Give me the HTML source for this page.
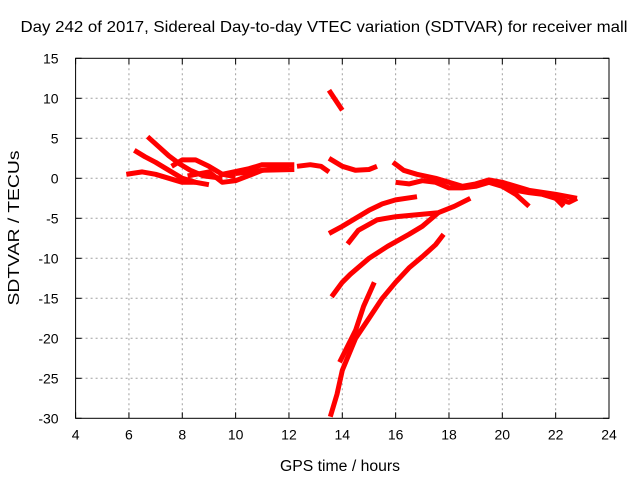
<!DOCTYPE html>
<html><head><meta charset="utf-8"><style>
body{margin:0;background:#fff}
svg{display:block;font-family:"Liberation Sans",sans-serif}
</style></head><body>
<svg id="chart" width="640" height="480">
<text x="324" y="32" font-size="16" textLength="607" lengthAdjust="spacingAndGlyphs" text-anchor="middle">Day 242 of 2017, Sidereal Day-to-day VTEC variation (SDTVAR) for receiver mall</text>
<text x="340" y="471" font-size="15.5" textLength="120" lengthAdjust="spacingAndGlyphs" text-anchor="middle">GPS time / hours</text>
<text transform="translate(19,228) rotate(-90)" font-size="15.5" textLength="155" lengthAdjust="spacingAndGlyphs" text-anchor="middle">SDTVAR / TECUs</text>
<g id="grid"></g><g id="ticks"></g><g id="series"></g>
<rect x="75.6" y="58.3" width="533.4" height="360" fill="none" stroke="#000" stroke-width="1"/>
</svg>
<script>
const xTicks=[4,6,8,10,12,14,16,18,20,22,24];
const yTicks=[15,10,5,0,-5,-10,-15,-20,-25,-30];
const t1=[[6.7,5.2],[7.1,4],[7.5,2.8],[7.9,1.8],[8.3,1],[8.8,0.3],[9.5,0]];
const t2=[[6.2,3.5],[6.6,2.7],[7,2],[7.5,1],[8,0],[8.5,-0.5],[9,-0.8]];
const t3=[[5.9,0.5],[6.5,0.8],[7,0.5],[7.5,0],[8,-0.5],[8.5,-0.5]];
const t4=[[7.6,1.5],[8,2.3],[8.5,2.3],[9,1.5],[9.5,0.5],[10,0.2]];
const t5=[[8.2,0.3],[9,0.8],[9.5,-0.5],[10,-0.3],[11,1],[12,1.5]];
const t6=[[9.5,0.5],[10.5,1.2],[11,1.7],[12.2,1.7]];
const t6b=[[10,0.6],[11,1],[12.2,1.1]];
const t7=[[12.3,1.5],[12.8,1.7],[13.2,1.5],[13.5,0.8]];
const t8=[[13.5,11],[13.7,10],[14,8.5]];
const t9=[[13.5,2.5],[14,1.5],[14.5,1],[15,1.1],[15.3,1.5]];
const t10=[[15.9,2],[16.3,1],[16.8,0.5],[17.5,0],[18,-0.5],[18.5,-1],[19,-0.7],[19.5,-0.2],[20,-0.5],[21,-1.5],[22,-2],[22.8,-2.5]];
const t11=[[16,-0.5],[16.5,-0.7],[17,-0.3],[17.5,-0.5],[18,-1.2],[18.5,-1.2],[19,-1],[19.5,-0.5],[20,-1],[20.5,-1.5],[21,-1.8],[21.5,-2],[22,-2.5],[22.5,-3],[22.8,-2.5]];
const t12=[[20,-1],[20.5,-2],[21,-3.5]];
const t12b=[[22,-2.5],[22.3,-3.5]];
const t13=[[13.5,-6.9],[14,-6],[14.5,-5],[15,-4],[15.5,-3.2],[16,-2.7],[16.8,-2.3]];
const t14=[[14.2,-8.2],[14.6,-6.5],[15.3,-5.2],[16,-4.8],[17,-4.5],[17.6,-4.3],[18.2,-3.5],[18.8,-2.5]];
const t15=[[13.6,-14.8],[14,-13],[14.3,-12],[15,-10],[15.7,-8.5],[16.5,-7],[17,-6],[17.6,-4.3]];
const t16=[[13.55,-29.8],[13.8,-27],[14,-24],[14.5,-20],[15,-17.5],[15.5,-15],[16,-13],[16.5,-11.2],[17,-9.8],[17.5,-8.3],[17.8,-7]];
const t17=[[13.9,-23],[14.2,-21],[14.5,-19],[14.8,-16],[15.2,-13]];
const allSeries=[t1,t2,t3,t4,t5,t6,t6b,t7,t8,t9,t10,t11,t12,t12b,t13,t14,t15,t16,t17];
const X0=75.6,X1=609,Y0=58.3,Y1=418.3;
function sx(v){return X0+(v-4)/20*(X1-X0);}
function sy(v){return Y0+(15-v)/45*(Y1-Y0);}
const NS='http://www.w3.org/2000/svg';
const grid=document.getElementById('grid'),ticks=document.getElementById('ticks'),ser=document.getElementById('series');
function mk(tag,attrs,parent){const e=document.createElementNS(NS,tag);for(const k in attrs)e.setAttribute(k,attrs[k]);parent.appendChild(e);return e;}
xTicks.forEach(v=>{const x=sx(v);
 if(v>4&&v<24){const g=mk('line',{x1:x,x2:x,y1:Y0,y2:Y1,stroke:'#a0a0a0','stroke-dasharray':'2,3'},grid);
 
 }
 mk('line',{x1:x,x2:x,y1:Y1,y2:Y1-6,stroke:'#000'},ticks);
 mk('line',{x1:x,x2:x,y1:Y0,y2:Y0+6,stroke:'#000'},ticks);
 const t=mk('text',{x:x,y:Y1+21,'font-size':14,'text-anchor':'middle'},ticks);t.textContent=v;
 
 });
yTicks.forEach(v=>{const y=sy(v);
 if(v<15&&v>-30){const g=mk('line',{x1:X0,x2:X1,y1:y,y2:y,stroke:'#a0a0a0','stroke-dasharray':'2,3'},grid);
 
 }
 mk('line',{x1:X0,x2:X0+6,y1:y,y2:y,stroke:'#000'},ticks);
 mk('line',{x1:X1,x2:X1-6,y1:y,y2:y,stroke:'#000'},ticks);
 const t=mk('text',{x:X0-17,y:y+5,'font-size':14,'text-anchor':'end'},ticks);t.textContent=v;
 
 });
allSeries.forEach((s,i)=>{
 const p=mk('polyline',{points:s.map(d=>sx(d[0]).toFixed(1)+','+sy(d[1]).toFixed(1)).join(' '),fill:'none',stroke:'#ff0000','stroke-width':5,'stroke-linejoin':'round','stroke-linecap':'butt'},ser);
 
 });
</script>
</body></html>
